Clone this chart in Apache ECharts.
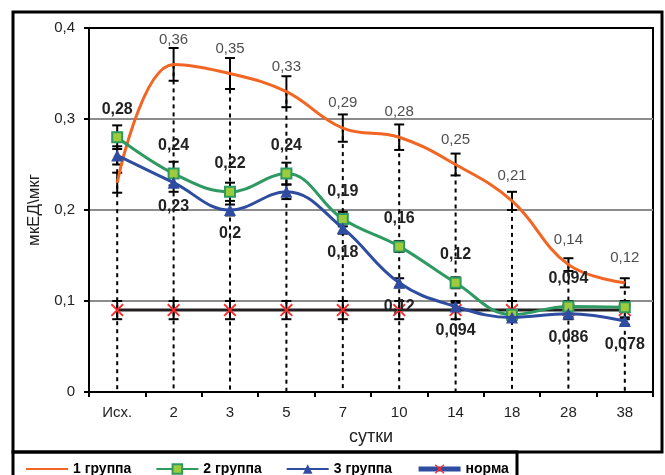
<!DOCTYPE html>
<html>
<head>
<meta charset="utf-8">
<script src="https://cdn.jsdelivr.net/npm/echarts@6/dist/echarts.min.js"></script>
<style>
  html, body { margin: 0; padding: 0; background: #fff; }
  #chart { width: 665px; height: 475px; }
</style>
</head>
<body>
<div id="chart"></div>
<script>
// Days of observation
const categories = ['Исх.', '2', '3', '5', '7', '10', '14', '18', '28', '38'];

// Mean values, мкЕД/мкг
const group1 = [0.23, 0.36, 0.35, 0.33, 0.29, 0.28, 0.25, 0.21, 0.14, 0.12];
const group2 = [0.28, 0.24, 0.22, 0.24, 0.19, 0.16, 0.12, 0.085, 0.094, 0.093];
const group3 = [0.26, 0.23, 0.2, 0.22, 0.18, 0.12, 0.094, 0.082, 0.086, 0.078];
const norm   = [0.09, 0.09, 0.09, 0.09, 0.09, 0.09, 0.09, 0.09, 0.09, 0.09];

// Standard errors
const group1Err = [0.011, 0.018, 0.017, 0.017, 0.015, 0.014, 0.012, 0.01, 0.007, 0.005];
const group2Err = [0.013, 0.013, 0.01, 0.012, 0.008, 0.006, 0.006, 0.004, 0.004, 0.004];
const group3Err = [0.01, 0.01, 0.006, 0.008, 0.006, 0.005, 0.004, 0.004, 0.004, 0.004];
const normErr   = [0.01, 0.01, 0.01, 0.01, 0.01, 0.01, 0.01, 0.01, 0.01, 0.01];

// Which points carry a value label
const group1Labeled = [1, 2, 3, 4, 5, 6, 7, 8, 9];
const group2Labeled = [0, 1, 2, 3, 4, 5, 6, 8];
const group3Labeled = [1, 2, 4, 5, 6, 8, 9];

// Y axis ticks
const yMin = 0, yMax = 0.4, yStep = 0.1;

const FONT = '"Liberation Sans", Arial, sans-serif';
const fmt = v => String(Math.round(v * 1000) / 1000).replace('.', ',');

const chart = echarts.init(document.getElementById('chart'), null, { renderer: 'canvas' });

function withLabels(values, labeled) {
  return values.map((v, i) => labeled.includes(i) ? v : { value: v, label: { show: false } });
}

function errorSeries(values, errs, z) {
  return {
    type: 'custom',
    silent: true,
    z: z,
    data: values.map((v, i) => [i, v - errs[i], v + errs[i]]),
    renderItem: function (params, api) {
      const lo = api.coord([api.value(0), api.value(1)]);
      const hi = api.coord([api.value(0), api.value(2)]);
      const cap = 5;
      const style = { stroke: '#000', lineWidth: 2 };
      return {
        type: 'group',
        children: [
          { type: 'line', shape: { x1: lo[0], y1: lo[1], x2: hi[0], y2: hi[1] }, style },
          { type: 'line', shape: { x1: lo[0] - cap, y1: lo[1], x2: lo[0] + cap, y2: lo[1] }, style },
          { type: 'line', shape: { x1: hi[0] - cap, y1: hi[1], x2: hi[0] + cap, y2: hi[1] }, style }
        ]
      };
    }
  };
}

// Drop lines from the highest point of each day down to the axis
const dropTops = categories.map((c, i) => Math.max(group1[i], group2[i], group3[i], norm[i]));

const crossPath = 'path://M0,1L1,0L5,4L9,0L10,1L6,5L10,9L9,10L5,6L1,10L0,9L4,5Z';

const option = {
  animation: false,
  backgroundColor: '#fff',
  textStyle: { fontFamily: FONT },
  grid: {
    left: 89, top: 28, right: 12, bottom: 83,
    show: true, borderColor: '#000', borderWidth: 2, backgroundColor: 'transparent'
  },
  legend: {
    left: 20, top: 457,
    itemWidth: 42, itemHeight: 12, itemGap: 24,
    textStyle: { fontFamily: FONT, fontSize: 14, fontWeight: 'bold', color: '#000' },
    data: [
      { name: '1 группа', itemStyle: { color: 'rgba(0,0,0,0)', borderWidth: 0 } },
      { name: '2 группа' },
      { name: '3 группа' },
      { name: 'норма', lineStyle: { color: '#2f4da0', width: 5 }, itemStyle: { color: '#ff2a2a' } }
    ]
  },
  xAxis: {
    type: 'category',
    data: categories,
    boundaryGap: true,
    name: 'сутки',
    nameLocation: 'middle',
    nameGap: 36,
    nameTextStyle: { fontFamily: FONT, fontSize: 18, color: '#222' },
    axisLine: { lineStyle: { color: '#000', width: 2 } },
    axisTick: { show: true, alignWithLabel: false, length: 5, lineStyle: { color: '#000', width: 2 } },
    axisLabel: { fontFamily: FONT, fontSize: 15, color: '#222', margin: 13 },
    splitLine: { show: false }
  },
  yAxis: {
    type: 'value',
    min: yMin, max: yMax, interval: yStep,
    name: 'мкЕД\\мкг',
    nameLocation: 'middle',
    nameGap: 46,
    nameRotate: 90,
    nameTextStyle: { fontFamily: FONT, fontSize: 17, color: '#222' },
    axisLine: { show: true, lineStyle: { color: '#000', width: 2 } },
    axisTick: { show: true, length: 5, lineStyle: { color: '#000', width: 2 } },
    axisLabel: { fontFamily: FONT, fontSize: 15, color: '#222', margin: 14, formatter: v => fmt(v) },
    splitLine: { show: true, lineStyle: { color: ['#000', '#8c8c8c', '#8c8c8c', '#8c8c8c', '#000'], width: 2 } }
  },
  graphic: [
    { type: 'rect', shape: { x: 13, y: 12, width: 649, height: 440 }, style: { fill: 'none', stroke: '#000', lineWidth: 3 }, z: 100 },
    { type: 'rect', shape: { x: 13, y: 452, width: 504, height: 40 }, style: { fill: 'none', stroke: '#000', lineWidth: 3 }, z: 100 }
  ],
  series: [
    {
      type: 'custom',
      silent: true,
      z: 1,
      data: dropTops.map((v, i) => [i, v]),
      renderItem: function (params, api) {
        const top = api.coord([api.value(0), api.value(1)]);
        const bottom = api.coord([api.value(0), 0]);
        return {
          type: 'line',
          shape: { x1: top[0], y1: top[1], x2: bottom[0], y2: bottom[1] },
          style: { stroke: '#000', lineWidth: 2, lineDash: [4, 4] }
        };
      }
    },
    errorSeries(group1, group1Err, 3),
    errorSeries(group2, group2Err, 3),
    errorSeries(group3, group3Err, 3),
    errorSeries(norm, normErr, 3),
    {
      name: 'норма',
      type: 'line',
      z: 4,
      data: norm,
      symbol: crossPath,
      symbolSize: 13,
      itemStyle: { color: '#ff2a2a' },
      lineStyle: { color: '#231f20', width: 3 }
    },
    {
      name: '1 группа',
      type: 'line',
      z: 5,
      smooth: 0.4,
      data: group1,
      symbol: 'none',
      lineStyle: { color: '#f26522', width: 3 },
      itemStyle: { color: '#f26522' }
    },
    {
      // value labels of group 1 (the line itself has no markers)
      type: 'scatter',
      z: 8,
      silent: true,
      data: withLabels(group1, group1Labeled),
      symbolSize: 1,
      itemStyle: { color: 'rgba(0,0,0,0)' },
      label: {
        show: true, position: 'top', distance: 17,
        fontFamily: FONT, fontSize: 15, color: '#222',
        formatter: p => fmt(p.value)
      }
    },
    {
      name: '2 группа',
      type: 'line',
      z: 6,
      smooth: 0.4,
      data: withLabels(group2, group2Labeled),
      symbol: 'rect',
      symbolSize: 10,
      lineStyle: { color: '#2e9a62', width: 3 },
      itemStyle: { color: '#9ccc3c', borderColor: '#2e9a62', borderWidth: 2 },
      label: {
        show: true, position: 'top', distance: 14,
        fontFamily: FONT, fontSize: 16, fontWeight: 'bold', color: '#222',
        formatter: p => fmt(p.value)
      }
    },
    {
      name: '3 группа',
      type: 'line',
      z: 7,
      smooth: 0.4,
      data: withLabels(group3, group3Labeled),
      symbol: 'triangle',
      symbolSize: 12,
      lineStyle: { color: '#2f4da0', width: 3 },
      itemStyle: { color: '#2f4da0' },
      label: {
        show: true, position: 'bottom', distance: 10,
        fontFamily: FONT, fontSize: 16, fontWeight: 'bold', color: '#222',
        formatter: p => fmt(p.value)
      }
    }
  ]
};

chart.setOption(option);
</script>
</body>
</html>
